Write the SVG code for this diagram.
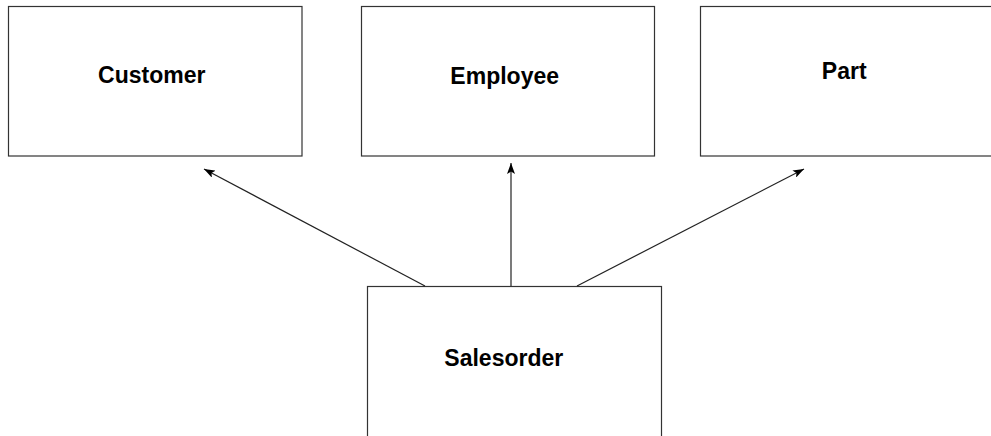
<svg xmlns="http://www.w3.org/2000/svg" width="991" height="436" viewBox="0 0 991 436">
<style>
.box{fill:#fff;stroke:#333;stroke-width:1.2}
.lbl{font-family:"Liberation Sans",Arial,sans-serif;font-weight:bold;font-size:23px;fill:#000;text-anchor:middle}
.edge{stroke:#222;stroke-width:1.2;fill:none;marker-end:url(#arr)}
</style>
<defs>
<marker id="arr" markerWidth="12" markerHeight="8" refX="11" refY="4" orient="auto" markerUnits="userSpaceOnUse">
<path d="M0,0 L11,4 L0,8 L2.5,4 Z" fill="#000"/>
</marker>
</defs>
<rect width="991" height="436" fill="#fff"/>
<g id="customer"><rect class="box" x="8.5" y="6.5" width="293.5" height="149.5"/><text class="lbl" x="151.7" y="83">Customer</text></g>
<g id="employee"><rect class="box" x="361.5" y="6.5" width="293" height="149.5"/><text class="lbl" x="504.7" y="83.5">Employee</text></g>
<g id="part"><rect class="box" x="700.5" y="6.5" width="300" height="149.5"/><text class="lbl" x="844.2" y="78.5">Part</text></g>
<g id="salesorder"><rect class="box" x="367.5" y="286.5" width="294" height="160"/><text class="lbl" x="503.8" y="366">Salesorder</text></g>
<g id="connectors">
<line class="edge" x1="425" y1="286" x2="204" y2="169"/>
<line class="edge" x1="511" y1="286" x2="511" y2="163"/>
<line class="edge" x1="577" y1="286" x2="804" y2="169"/>
</g>
</svg>
